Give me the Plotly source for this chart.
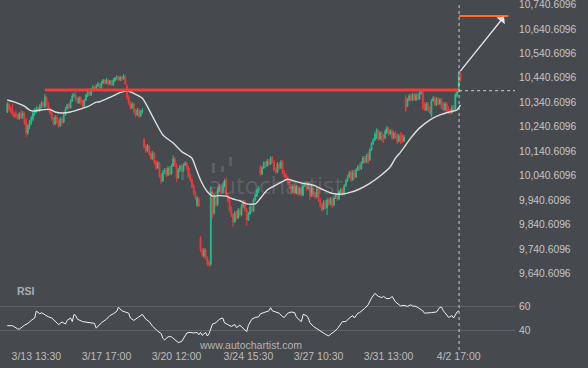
import plotly.graph_objects as go

# ---------------- data (30-min candles, index 0..265) ----------------
OPEN = [10301,10334,10317,10309,10293,10297,10285,10276,10293,10280,
        10293,10268,10215,10240,10256,10272,10293,10305,10317,10305,
        10325,10338,10321,10358,10334,10309,10297,10272,10252,10280,
        10264,10244,10272,10260,10289,10313,10330,10317,10346,10366,
        10370,10354,10338,10358,10342,10325,10350,10366,10383,10370,
        10391,10403,10391,10407,10415,10399,10419,10432,10419,10432,
        10415,10428,10411,10428,10440,10444,10432,10444,10436,10444,
        10407,10362,10338,10317,10334,10305,10289,10309,10285,10301,
        10190,10162,10141,10162,10133,10109,10133,10096,10072,10092,
        10043,10019,10055,10064,10043,10072,10047,10080,10109,10084,
        10031,10064,10080,10060,10084,10092,10072,10043,10023,9998,
        9970,9920,9945,9786,9737,9712,9737,9704,9687,9679,
        9970,9888,9957,9920,9982,9998,9970,10002,10023,9961,
        9941,9908,9880,9851,9888,9867,9900,9880,9916,9933,
        9900,9859,9884,9912,9896,9941,9957,9978,10076,10047,
        10072,10092,10080,10100,10088,10113,10096,10068,10055,10088,
        10072,10096,10055,10043,10031,10015,9998,9974,9998,9970,
        9994,9965,9986,9961,9998,10006,9986,10006,9957,9990,
        9961,9953,9982,9941,9920,9904,9933,9908,9941,9925,
        9945,9920,9949,9961,9945,9974,9982,9965,9998,10019,
        10035,10055,10023,10055,10035,10064,10084,10068,10092,10113,
        10096,10129,10105,10146,10170,10186,10195,10223,10190,10215,
        10203,10195,10215,10231,10211,10223,10195,10215,10207,10182,
        10211,10207,10182,10362,10325,10350,10366,10350,10370,10350,
        10370,10354,10379,10383,10334,10309,10334,10317,10289,10346,
        10358,10330,10354,10334,10350,10334,10309,10334,10317,10305,
        10297,10321,10309,10366,10383,10456]
HIGH = [10342,10338,10325,10334,10301,10305,10293,10301,10309,10305,
        10301,10276,10252,10268,10285,10305,10317,10325,10325,10334,
        10346,10346,10375,10366,10342,10317,10305,10280,10289,10289,
        10272,10280,10280,10297,10321,10334,10338,10354,10379,10379,
        10383,10362,10366,10366,10350,10354,10375,10391,10391,10399,
        10411,10407,10415,10424,10419,10428,10436,10436,10440,10436,
        10432,10432,10440,10444,10452,10448,10448,10448,10456,10452,
        10415,10370,10346,10342,10338,10313,10317,10317,10309,10317,
        10195,10170,10170,10166,10141,10141,10137,10105,10100,10096,
        10051,10064,10072,10072,10080,10080,10088,10125,10117,10092,
        10072,10084,10088,10092,10100,10096,10080,10051,10031,10006,
        9978,9957,9953,9794,9745,9745,9745,9712,9696,9998,
        9982,9965,9965,9990,10006,10006,10010,10027,10035,9970,
        9949,9916,9888,9896,9896,9908,9908,9925,9941,9941,
        9908,9892,9920,9920,9949,9970,9986,9998,10084,10080,
        10100,10100,10109,10109,10121,10121,10105,10076,10096,10096,
        10105,10105,10064,10051,10039,10023,10006,10006,10006,10002,
        10002,9994,9994,10006,10015,10015,10015,10010,9998,9998,
        9970,9994,9990,9949,9929,9941,9941,9949,9949,9953,
        9953,9957,9970,9970,9982,9990,9990,10006,10027,10043,
        10060,10064,10064,10064,10072,10084,10092,10100,10121,10121,
        10129,10137,10154,10178,10195,10219,10235,10231,10223,10223,
        10211,10231,10244,10240,10231,10231,10223,10223,10215,10211,
        10219,10215,10207,10370,10358,10375,10375,10379,10379,10379,
        10379,10387,10387,10387,10342,10342,10342,10325,10354,10366,
        10366,10362,10362,10358,10358,10342,10342,10342,10325,10313,
        10330,10330,10379,10391,10465,10465]
LOW = [10297,10305,10297,10285,10276,10276,10268,10268,10272,10272,
       10248,10199,10207,10231,10248,10264,10285,10297,10301,10301,
       10317,10317,10317,10325,10305,10289,10264,10244,10248,10252,
       10235,10240,10248,10256,10285,10309,10313,10313,10342,10358,
       10346,10334,10334,10330,10317,10321,10346,10362,10366,10366,
       10387,10387,10387,10403,10395,10395,10415,10411,10415,10407,
       10411,10407,10407,10424,10432,10428,10428,10428,10432,10411,
       10350,10330,10309,10313,10293,10280,10285,10276,10280,10293,
       10150,10133,10137,10121,10105,10105,10084,10064,10068,10031,
       10006,10015,10047,10035,10039,10039,10043,10076,10076,10015,
       10027,10055,10055,10055,10080,10064,10039,10015,9990,9961,
       9941,9912,9912,9728,9708,9704,9696,9671,9667,9671,
       9867,9880,9912,9916,9974,9961,9965,9994,9953,9929,
       9892,9871,9831,9847,9859,9863,9871,9875,9908,9892,
       9835,9855,9880,9888,9892,9937,9953,9970,10039,10043,
       10068,10072,10076,10080,10084,10092,10055,10047,10051,10064,
       10068,10047,10031,10023,10002,9990,9965,9970,9961,9965,
       9957,9961,9953,9957,9994,9978,9982,9941,9953,9953,
       9945,9949,9933,9908,9892,9900,9904,9880,9916,9920,
       9908,9916,9945,9937,9941,9970,9957,9961,9994,10015,
       10031,10015,10019,10027,10031,10060,10060,10064,10088,10088,
       10092,10088,10100,10141,10166,10182,10190,10182,10186,10178,
       10174,10190,10211,10203,10207,10186,10190,10190,10170,10178,
       10170,10174,10178,10301,10321,10346,10342,10346,10346,10346,
       10350,10350,10370,10309,10305,10305,10301,10293,10280,10342,
       10325,10325,10330,10330,10313,10305,10305,10301,10293,10289,
       10293,10301,10305,10362,10379,10424]
CLOSE = [10334,10313,10301,10293,10280,10285,10272,10293,10276,10297,
         10260,10215,10244,10260,10276,10297,10309,10317,10305,10325,
         10338,10325,10362,10334,10309,10297,10272,10252,10280,10260,
         10244,10272,10256,10289,10313,10330,10317,10346,10366,10370,
         10350,10338,10358,10338,10321,10350,10370,10383,10370,10395,
         10403,10391,10407,10415,10399,10419,10432,10419,10432,10415,
         10428,10411,10432,10440,10444,10432,10444,10436,10448,10415,
         10362,10338,10317,10334,10301,10289,10309,10280,10305,10309,
         10158,10141,10162,10129,10109,10133,10092,10072,10092,10039,
         10015,10055,10064,10043,10072,10047,10080,10109,10084,10031,
         10064,10080,10060,10084,10092,10072,10043,10023,9994,9970,
         9949,9949,9916,9737,9716,9737,9704,9679,9675,9974,
         9884,9957,9920,9982,9998,9970,10002,10019,9961,9937,
         9900,9880,9851,9888,9867,9900,9880,9916,9933,9900,
         9859,9884,9912,9896,9941,9961,9978,9990,10047,10072,
         10092,10080,10100,10088,10113,10096,10064,10055,10088,10072,
         10096,10055,10039,10031,10010,9998,9974,9998,9970,9994,
         9965,9986,9961,9998,10006,9986,10006,9957,9990,9961,
         9953,9986,9941,9916,9900,9933,9912,9941,9925,9945,
         9916,9949,9961,9945,9974,9982,9965,9998,10019,10035,
         10051,10023,10055,10035,10064,10076,10068,10092,10113,10096,
         10121,10096,10146,10170,10186,10211,10227,10190,10215,10186,
         10182,10223,10235,10211,10223,10195,10215,10199,10178,10203,
         10174,10182,10199,10309,10350,10366,10350,10375,10350,10370,
         10354,10379,10383,10317,10309,10334,10309,10297,10346,10358,
         10330,10354,10334,10350,10317,10309,10334,10305,10297,10297,
         10321,10305,10370,10383,10456,10432]

MA_X = [0,4,7,10,13,16,19,25,28,32,37,41,47,52,54,60,66,70,74,79,
        85,91,97,102,108,110,113,117,120,124,128,132,136,140,145,148,152,158,164,167,
        173,179,185,190,196,200,206,212,218,224,227,230,233,236,241,247,253,259,263,265]
MA_Y = [10350,10342,10334,10325,10309,10305,10309,10311,10301,10297,
        10301,10309,10323,10341,10343,10361,10380,10388,10377,10357,
        10282,10207,10174,10139,10112,10077,10023,9975,9957,9959,
        9957,9945,9938,9925,9925,9948,9982,10006,10026,10020,
        10009,10002,9982,9968,9965,9971,9986,10009,10039,10077,
        10112,10137,10166,10195,10235,10268,10289,10302,10309,10330]

RSI_X = [0,3,6,7,10,12,14,16,17,19,20,22,24,26,28,30,32,34,35,37,38,39,40,41,44,46,48,51,52,53,
         55,58,60,62,64,65,67,69,71,72,74,76,78,79,81,83,85,86,88,90,91,92,94,96,98,100,102,103,105,107,
         109,111,112,113,114,116,117,118,119,120,122,124,126,127,129,131,133,134,136,138,140,141,143,145,147,148,151,153,154,155,
         157,159,161,162,164,166,168,169,171,172,173,175,176,177,179,181,182,184,186,188,189,191,193,195,196,198,200,202,203,205,
         206,209,211,213,214,215,217,219,220,222,224,225,227,229,230,232,234,236,237,239,241,243,244,247,248,251,253,254,255,257,
         258,260,261,263,264]
RSI_Y = [43.6,43.6,41,40.6,44,45.5,48,50,55.8,53.5,54.4,52.5,51,50,47,44.5,46.7,45,48,50,47,53,52,49,47,46.5,46,45.5,41.5,43,
         46,49,52,53.5,55.5,59,56,55,54,50,48,50,52,53,49,47,43,41.5,39,37,33,31.7,34.4,34.4,32,29.5,30.5,33,37.5,38,
         37.5,38,36,38,35.5,38,35,37,42,45,46,49,50,46,44.5,43,44.5,42,44,41,38.6,44,49,50.5,51,53.5,55,56,58.6,56,
         55,54,51,50.5,54,55,54.5,51,48,47,53,52,50,46,43,41,40,38.5,36.5,35,36.5,38.5,41,45,47,47,50,52,50,54,
         54.5,58,61,66.7,69,70.5,68,67,68,66,66.5,68,63.5,61,60,60.5,59.7,61,60,59.7,58,56,54,54,54.5,55,59,59,56,52.5,
         50.5,52,50,55,56]

TICK_POS = [17, 58, 99, 141, 182, 223, 264]
TICK_TEXT = ["3/13 13:30", "3/17 17:00", "3/20 12:00", "3/24 15:30",
             "3/27 10:30", "3/31 13:00", "4/2 17:00"]
PRICE_TICKS = [9640.6096, 9740.6096, 9840.6096, 9940.6096, 10040.6096, 10140.6096,
               10240.6096, 10340.6096, 10440.6096, 10540.6096, 10640.6096, 10740.6096]
RSI_TICKS = [40, 60]

RESIST_LEVEL = 10391
RESIST_START, RESIST_END = 22, 264
BREAK_IDX = 264.2
BREAK_PRICE = 10388
TARGET_LEVEL = 10694
TARGET_END = 293
ARROW_FROM = (264.2, 10462)
ARROW_TO = (290.5, 10691)

# ---------------- style ----------------
BG = "#46494e"
GREEN = "#20bf8a"
RED = "#f0383c"
TXT = "#c6c6c6"
W, H = 588, 368
ML, MR, MT, MB = 0, 73, 0, 20
PW, PH = W - ML - MR, H - MT - MB


def px(xp):
    return (xp - ML) / PW


def py(yp):
    return (PH - (yp - MT)) / PH


X = list(range(len(CLOSE)))

fig = go.Figure()
fig.add_trace(go.Candlestick(
    x=X, open=OPEN, high=HIGH, low=LOW, close=CLOSE,
    increasing=dict(line=dict(color=GREEN, width=1), fillcolor=GREEN),
    decreasing=dict(line=dict(color=RED, width=1), fillcolor=RED),
    whiskerwidth=0, hoverinfo="skip", xaxis="x", yaxis="y"))
fig.add_trace(go.Scatter(x=MA_X, y=MA_Y, mode="lines",
                         line=dict(color="#dedede", width=1.4, shape="spline", smoothing=0.6),
                         hoverinfo="skip", xaxis="x", yaxis="y"))
fig.add_trace(go.Scatter(x=RSI_X, y=RSI_Y, mode="lines",
                         line=dict(color="#f2f2f2", width=1),
                         hoverinfo="skip", xaxis="x", yaxis="y2"))
# resistance, target and breakout level lines
fig.add_trace(go.Scatter(x=[RESIST_START, RESIST_END], y=[RESIST_LEVEL, RESIST_LEVEL], mode="lines",
                         line=dict(color="#f23b3b", width=3), hoverinfo="skip", yaxis="y"))
fig.add_trace(go.Scatter(x=[BREAK_IDX, TARGET_END], y=[TARGET_LEVEL, TARGET_LEVEL], mode="lines",
                         line=dict(color="#ff6b2c", width=2), hoverinfo="skip", yaxis="y"))
fig.add_trace(go.Scatter(x=[BREAK_IDX, 296.9], y=[BREAK_PRICE, BREAK_PRICE], mode="lines",
                         line=dict(color="#d0d0d0", width=1, dash="3px,3px"), hoverinfo="skip", yaxis="y"))

shapes = [dict(type="line", xref="x", yref="paper", x0=BREAK_IDX, x1=BREAK_IDX, y0=py(350), y1=py(2),
               line=dict(color="#cfcfcf", width=1, dash="3px,3px"), layer="above")]
# faint logo bars of the watermark
for (x0, x1, y0, y1) in [(181, 184, 168, 180), (187, 190, 168, 178), (212, 215, 163, 173),
                         (221, 224, 166, 172), (229, 232, 157, 166)]:
    shapes.append(dict(type="rect", xref="paper", yref="paper", x0=px(x0), x1=px(x1),
                       y0=py(y1), y1=py(y0), fillcolor="rgba(255,255,255,0.12)",
                       line=dict(width=0), layer="below"))

annotations = [
    dict(x=ARROW_TO[0], y=ARROW_TO[1], ax=ARROW_FROM[0], ay=ARROW_FROM[1], xref="x", yref="y",
         axref="x", ayref="y", showarrow=True, arrowhead=1, arrowsize=1.4, arrowwidth=1.3,
         arrowcolor="#e8e8e8", text=""),
    dict(x=px(275), y=py(185), xref="paper", yref="paper", text="autochartist", showarrow=False,
         font=dict(size=24, color="rgba(255,255,255,0.15)", family="Open Sans"),
         xanchor="center", yanchor="middle"),
    dict(x=px(15), y=py(291), xref="paper", yref="paper", text="<b>RSI</b>", showarrow=False,
         font=dict(size=10.5, color="#a8adb3", family="Liberation Sans"), xanchor="left", yanchor="middle"),
    dict(x=px(250), y=py(345), xref="paper", yref="paper", text="www.autochartist.com", showarrow=False,
         font=dict(size=10.5, color="#b4b4b4", family="Liberation Sans"), xanchor="center", yanchor="middle"),
]

fig.update_layout(
    width=W, height=H, margin=dict(l=ML, r=MR, t=MT, b=MB),
    paper_bgcolor=BG, plot_bgcolor=BG, showlegend=False,
    font=dict(family="Liberation Sans", color=TXT),
    shapes=shapes, annotations=annotations,
    xaxis=dict(range=[-4.27, 296.9], anchor="y2", tickvals=TICK_POS, ticktext=TICK_TEXT,
               showgrid=False, zeroline=False, showline=False, ticks="", 
               tickfont=dict(size=10.5, color="#bdbdbd"), ticklabeloverflow="allow",
               rangeslider=dict(visible=False), fixedrange=True),
    yaxis=dict(domain=[py(280), 1], range=[9613.8, 10759], side="right", anchor="x",
               tickvals=PRICE_TICKS, tickformat=",.4f", showgrid=False, zeroline=False,
               ticks="outside", ticklen=1, tickcolor=BG, tickfont=dict(size=10.3, color=TXT),
               ticklabeloverflow="allow"),
    yaxis2=dict(domain=[0, py(282)], range=[25, 80], side="right", anchor="x",
                tickvals=RSI_TICKS, showgrid=True, gridcolor="#5e6267", gridwidth=1,
                zeroline=False, ticks="outside", ticklen=1, tickcolor=BG,
                tickfont=dict(size=10.3, color=TXT), ticklabeloverflow="allow"),
)

fig.write_html("out.html", config={"displayModeBar": False, "staticPlot": True},
               post_script="document.body.style.margin='0';document.body.style.overflow='hidden';")
